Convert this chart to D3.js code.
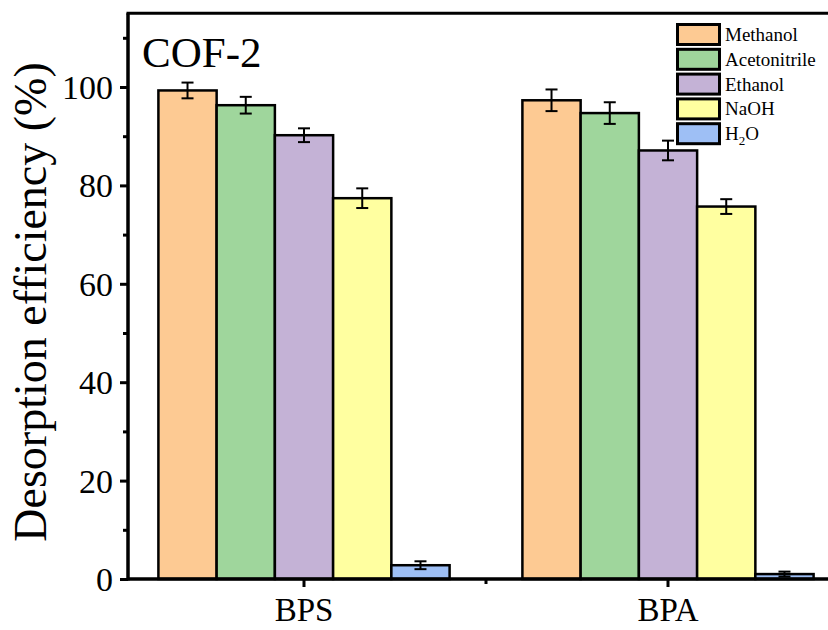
<!DOCTYPE html>
<html><head><meta charset="utf-8">
<script src="https://cdn.jsdelivr.net/npm/d3@7"></script>
<style>body{margin:0;background:#fff}svg{display:block}text{font-family:"Liberation Serif","Times New Roman",serif;fill:#000}</style>
</head><body><svg id="c" width="828" height="630"></svg>
<script>
const categories = ["BPS", "BPA"];
const solvents = ["Methanol", "Acetonitrile", "Ethanol", "NaOH", "H2O"];
const valuesBPS = [99.3, 96.3, 90.2, 77.4, 2.8];
const valuesBPA = [97.3, 94.7, 87.1, 75.7, 1.0];
const errorsBPS = [1.6, 1.7, 1.4, 2.0, 0.8];
const errorsBPA = [2.2, 2.2, 2.0, 1.5, 0.5];
const colors = ["#fdca93", "#9fd69c", "#c4b2d6", "#ffffa0", "#9ebff5"];
const yMajorTicks = [0, 20, 40, 60, 80, 100];
const yMinorTicks = [10, 30, 50, 70, 90, 110];

const svg = d3.select("#c");
const y = d3.scaleLinear().domain([0, 115]).range([579, 13.2]);
const x0 = d3.scaleBand().domain(categories).range([122, 850]).paddingInner(0.2).paddingOuter(0.1);
const x1 = d3.scaleBand().domain(solvents).range([0, x0.bandwidth()]);
const color = d3.scaleOrdinal().domain(solvents).range(colors);

const rows = [];
categories.forEach((c, ci) => {
  const vals = ci === 0 ? valuesBPS : valuesBPA;
  const errs = ci === 0 ? errorsBPS : errorsBPA;
  solvents.forEach((s, si) => rows.push({cat: c, sol: s, v: vals[si], e: errs[si]}));
});

// bars
svg.append("g").selectAll("rect").data(rows).join("rect")
  .attr("x", d => x0(d.cat) + x1(d.sol))
  .attr("y", d => y(d.v))
  .attr("width", x1.bandwidth())
  .attr("height", d => y(0) - y(d.v))
  .attr("fill", d => color(d.sol))
  .attr("stroke", "#000").attr("stroke-width", 2.5);

// error bars
const eg = svg.append("g").attr("stroke", "#000").attr("stroke-width", 2);
rows.forEach(d => {
  const cx = x0(d.cat) + x1(d.sol) + x1.bandwidth() / 2;
  eg.append("line").attr("x1", cx).attr("x2", cx).attr("y1", y(d.v + d.e)).attr("y2", y(d.v - d.e));
  [d.v + d.e, d.v - d.e].forEach(t => eg.append("line").attr("x1", cx - 6).attr("x2", cx + 6).attr("y1", y(t)).attr("y2", y(t)));
});

// y axis
const yAxis = svg.append("g").attr("transform", "translate(128,0)")
  .call(d3.axisLeft(y).tickValues(yMajorTicks).tickSize(8).tickPadding(7).tickFormat(d3.format("d")));
yAxis.select(".domain").remove();
yAxis.selectAll(".tick line").attr("stroke-width", 3);
yAxis.selectAll(".tick text").attr("font-size", 34).attr("font-family", "Liberation Serif").attr("dy", "0.34em");
const yMinor = svg.append("g").attr("transform", "translate(128,0)")
  .call(d3.axisLeft(y).tickValues(yMinorTicks).tickSize(5).tickFormat(""));
yMinor.select(".domain").remove();
yMinor.selectAll(".tick line").attr("stroke-width", 3);

// x axis
const xAxis = svg.append("g").attr("transform", "translate(0,579)")
  .call(d3.axisBottom(x0).tickSize(8).tickPadding(11));
xAxis.select(".domain").remove();
xAxis.selectAll(".tick line").attr("stroke-width", 3);
xAxis.selectAll(".tick text").attr("font-size", 33).attr("font-family", "Liberation Serif").attr("dy", "0.71em");
const boundaries = [x0(categories[1]) - x0.step() * x0.paddingInner() / 2];
svg.append("g").selectAll("line").data(boundaries).join("line")
  .attr("x1", d => d).attr("x2", d => d).attr("y1", 579).attr("y2", 584)
  .attr("stroke", "#000").attr("stroke-width", 3);

// frame lines
svg.append("line").attr("x1", 128).attr("x2", 828).attr("y1", y(0)).attr("y2", y(0)).attr("stroke", "#000").attr("stroke-width", 3.5);
svg.append("line").attr("x1", 128).attr("x2", 128).attr("y1", y(0) + 1.5).attr("y2", y(115)).attr("stroke", "#000").attr("stroke-width", 3.5);
svg.append("line").attr("x1", 126.5).attr("x2", 828).attr("y1", y(115)).attr("y2", y(115)).attr("stroke", "#000").attr("stroke-width", 3);

// y label
svg.append("text").attr("transform", "translate(46,302) rotate(-90)")
  .attr("text-anchor", "middle").attr("font-size", 46).text("Desorption efficiency (%)");

// COF-2
svg.append("text").attr("x", 142).attr("y", 67).attr("font-size", 43).text("COF-2");

// legend
const lg = svg.append("g").attr("transform", "translate(676,23)");
solvents.forEach((s, i) => {
  const g = lg.append("g").attr("transform", `translate(0,${i * 24.8})`);
  g.append("rect").attr("x", 1.5).attr("y", 1.5).attr("width", 42).attr("height", 20)
    .attr("fill", colors[i]).attr("stroke", "#000").attr("stroke-width", 3);
  const t = g.append("text").attr("x", 49).attr("y", 18).attr("font-size", 19);
  if (s === "H2O") {
    t.append("tspan").text("H");
    t.append("tspan").attr("font-size", 13).attr("dy", 5).text("2");
    t.append("tspan").attr("dy", -5).text("O");
  } else t.text(s);
});
</script></body></html>
